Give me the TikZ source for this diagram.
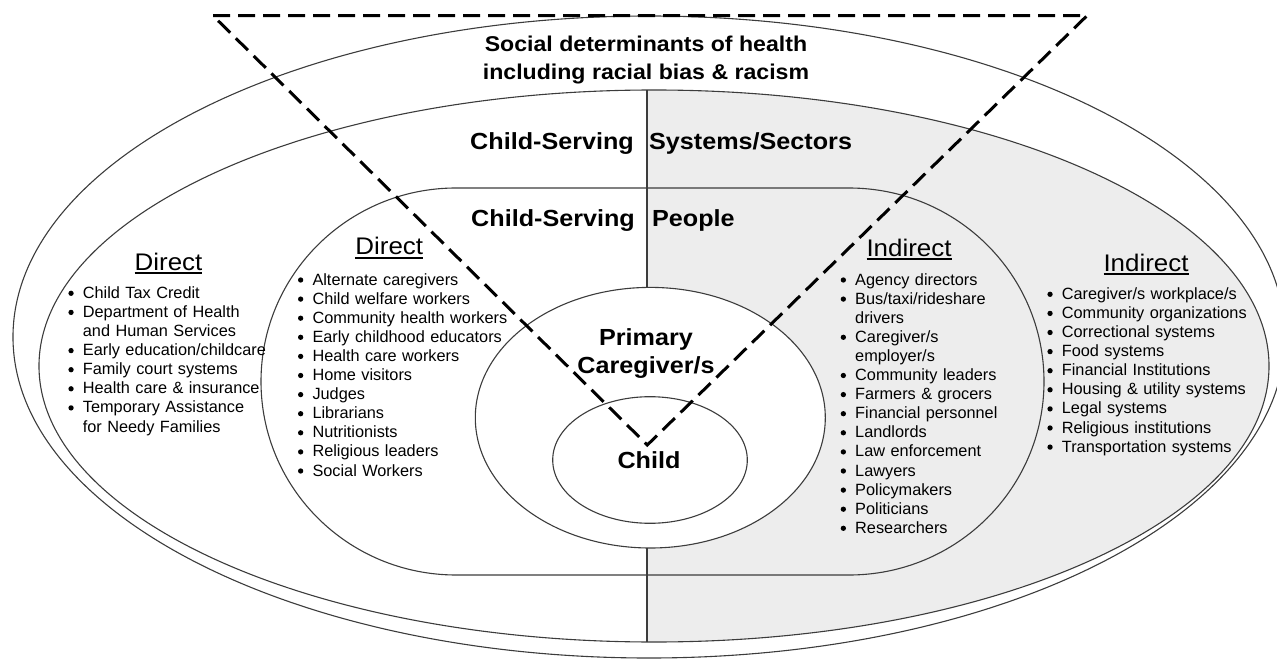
\documentclass[tikz,border=0pt]{standalone}
\usepackage{fontspec}
\setmainfont{Liberation Sans}
\newfontfamily\hfont[FakeStretch=1.08]{Liberation Sans}
\definecolor{sgray}{RGB}{237,237,237}
\definecolor{ink}{RGB}{60,60,60}
\newcommand\bul{\makebox[14bp][l]{\hspace*{-0.5bp}\raisebox{2.35bp}{\tikz\fill[black] (0,0) circle[radius=2.65bp];}}}
\newcommand\ind{\hspace*{14bp}}
\newcommand\ulhead[1]{\setbox0\hbox{#1}\rlap{\rule[-3.6bp]{\wd0}{1.5bp}}\box0}
\tikzset{
  ring/.style={draw=ink, line width=1.1bp},
  tri/.style={draw=black, line width=3bp, dash pattern=on 17bp off 8bp},
  bigtext/.style={font=\hfont\bfseries\fontsize{23.3bp}{28bp}\selectfont, inner sep=0pt},
  titletext/.style={font=\hfont\bfseries\fontsize{21.4bp}{28bp}\selectfont, inner sep=0pt, anchor=base},
  headtext/.style={font=\hfont\fontsize{24bp}{28bp}\selectfont, inner sep=0pt, anchor=base},
  listtext/.style={font=\fontsize{16.3bp}{19.1bp}\selectfont, inner sep=0pt, text width=260bp, align=left, anchor=base west},
}
\begin{document}
\begin{tikzpicture}[x=1bp, y=-1bp]
\useasboundingbox (0,0) rectangle (1277,659);
% shaded right half
\begin{scope}
  \clip (647,0) rectangle (1277,659);
  \fill[sgray] (654,366) ellipse [x radius=615bp, y radius=276bp];
\end{scope}
\fill[white] (650.3,417.7) ellipse [x radius=175bp, y radius=130.3bp];
% rings
\draw[ring] (649,337) ellipse [x radius=636bp, y radius=321bp];
\draw[ring] (654,366) ellipse [x radius=615bp, y radius=276bp];
\draw[ring] (456,188) -- (849,188) arc[start angle=90, end angle=-90, x radius=195bp, y radius=193.5bp]
  -- (456,575) arc[start angle=270, end angle=90, x radius=195bp, y radius=193.5bp] -- cycle;
\draw[ring] (650.3,417.7) ellipse [x radius=175bp, y radius=130.3bp];
\draw[ring] (650,460) ellipse [x radius=97.3bp, y radius=63.3bp];
% divider
\coordinate (vt) at (647,90);
\coordinate (vm1) at (647,287.3);
\coordinate (vm2) at (647,548);
\coordinate (vb) at (647,642);
\draw[ring] (vt) -- (vm1);
\draw[ring] (vm2) -- (vb);
% dashed triangle
\coordinate (tl) at (213,15.7);
\coordinate (tr) at (1087,15.7);
\coordinate (ap) at (647.3,445);
\draw[tri] (tl) -- (tr) -- (ap) -- cycle;
% titles
\node[titletext] (t1) at (646,52) {Social determinants of health};
\node[titletext] (t2) at (646,80) {including racial bias \& racism};
\node[bigtext, anchor=base east] (cs1) at (634,150) {Child-Serving};
\node[bigtext, anchor=base west] (ss) at (649,150) {Systems/Sectors};
\node[bigtext, anchor=base east] (cs2) at (635,227) {Child-Serving};
\node[bigtext, anchor=base west] (pp) at (652,227) {People};
\node[bigtext, anchor=base] (pr) at (646,345) {Primary};
\node[bigtext, anchor=base] (cg) at (646,373) {Caregiver/s};
\node[bigtext, anchor=base] (ch) at (649,468) {Child};
% headings
\node[headtext] (h1) at (168.5,270) {\ulhead{Direct}};
\node[headtext] (h2) at (389.3,255) {\ulhead{Direct}};
\node[headtext] (h3) at (909,256) {\ulhead{Indirect}};
\node[headtext] (h4) at (1146,271) {\ulhead{Indirect}};
% lists
\node[listtext] (l1) at (68.7,298.3) {\bul Child Tax Credit\\
\bul Department of Health\\
\ind and Human Services\\
\bul Early education/childcare\\
\bul Family court systems\\
\bul Health care \& insurance\\
\bul Temporary Assistance\\
\ind for Needy Families};
\node[listtext] (l2) at (298.3,285) {\bul Alternate caregivers\\
\bul Child welfare workers\\
\bul Community health workers\\
\bul Early childhood educators\\
\bul Health care workers\\
\bul Home visitors\\
\bul Judges\\
\bul Librarians\\
\bul Nutritionists\\
\bul Religious leaders\\
\bul Social Workers};
\node[listtext] (l3) at (841,285) {\bul Agency directors\\
\bul Bus/taxi/rideshare\\
\ind drivers\\
\bul Caregiver/s\\
\ind employer/s\\
\bul Community leaders\\
\bul Farmers \& grocers\\
\bul Financial personnel\\
\bul Landlords\\
\bul Law enforcement\\
\bul Lawyers\\
\bul Policymakers\\
\bul Politicians\\
\bul Researchers};
\node[listtext] (l4) at (1047.7,299.3) {\bul Caregiver/s workplace/s\\
\bul Community organizations\\
\bul Correctional systems\\
\bul Food systems\\
\bul Financial Institutions\\
\bul Housing \& utility systems\\
\bul Legal systems\\
\bul Religious institutions\\
\bul Transportation systems};
\end{tikzpicture}
\end{document}
